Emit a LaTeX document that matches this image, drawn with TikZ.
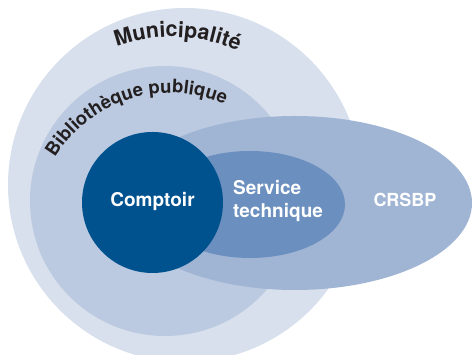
\documentclass[tikz,border=0pt]{standalone}
\usepackage{fontspec}
\setmainfont{TeX Gyre Heros}
\usetikzlibrary{decorations.text}
\definecolor{muni}{HTML}{D7E0EC}
\definecolor{biblio}{HTML}{BBCAE0}
\definecolor{crsbp}{HTML}{A0B4D4}
\definecolor{serv}{HTML}{6B8FBE}
\definecolor{compt}{HTML}{00528F}
\definecolor{dark}{HTML}{231F20}
\newcommand{\mfontA}{\fontsize{21.5}{21.5}\selectfont\bfseries\color{dark}}
\newcommand{\mfontB}{\fontsize{18.5}{18.5}\selectfont\bfseries\color{dark}}
\tikzset{
  lab/.style={text=white, font=\fontsize{19}{22.7}\selectfont\bfseries, inner sep=0pt},
  arctext/.style={decorate, decoration={text along path, text align=center, text={#1}}}
}
\begin{document}
\begin{tikzpicture}[x=1pt,y=1pt]
\useasboundingbox (0,0) rectangle (472,355);
\clip (0,0) rectangle (472,355);
\fill[muni] (185,170) circle[radius=177];
\fill[biblio] (165,154) circle[radius=135];
\fill[crsbp] (295,152) ellipse[x radius=177, y radius=87];
\fill[serv] (250,150.5) ellipse[x radius=95, y radius=53.5];
\fill[compt] (152.5,152.5) circle[radius=70.5];
\node[lab] (comptoir) at (152.5,153) {Comptoir};
\node[lab, align=left, anchor=west] (service) at (233,154) {Service\\technique};
\node[lab, font=\fontsize{18}{18}\selectfont\bfseries] (crsbp) at (405,155) {CRSBP};
\coordinate (mc) at (172,155);
\coordinate (bc) at (170,128);
\path[arctext={|\mfontA|Municipalité}] (mc) ++(140:163) arc[start angle=140, end angle=36, radius=163];
\path[arctext={|\mfontB|Bibliothèque publique}] (bc) ++(173:134) arc[start angle=173, end angle=42, radius=134];
\end{tikzpicture}
\end{document}
